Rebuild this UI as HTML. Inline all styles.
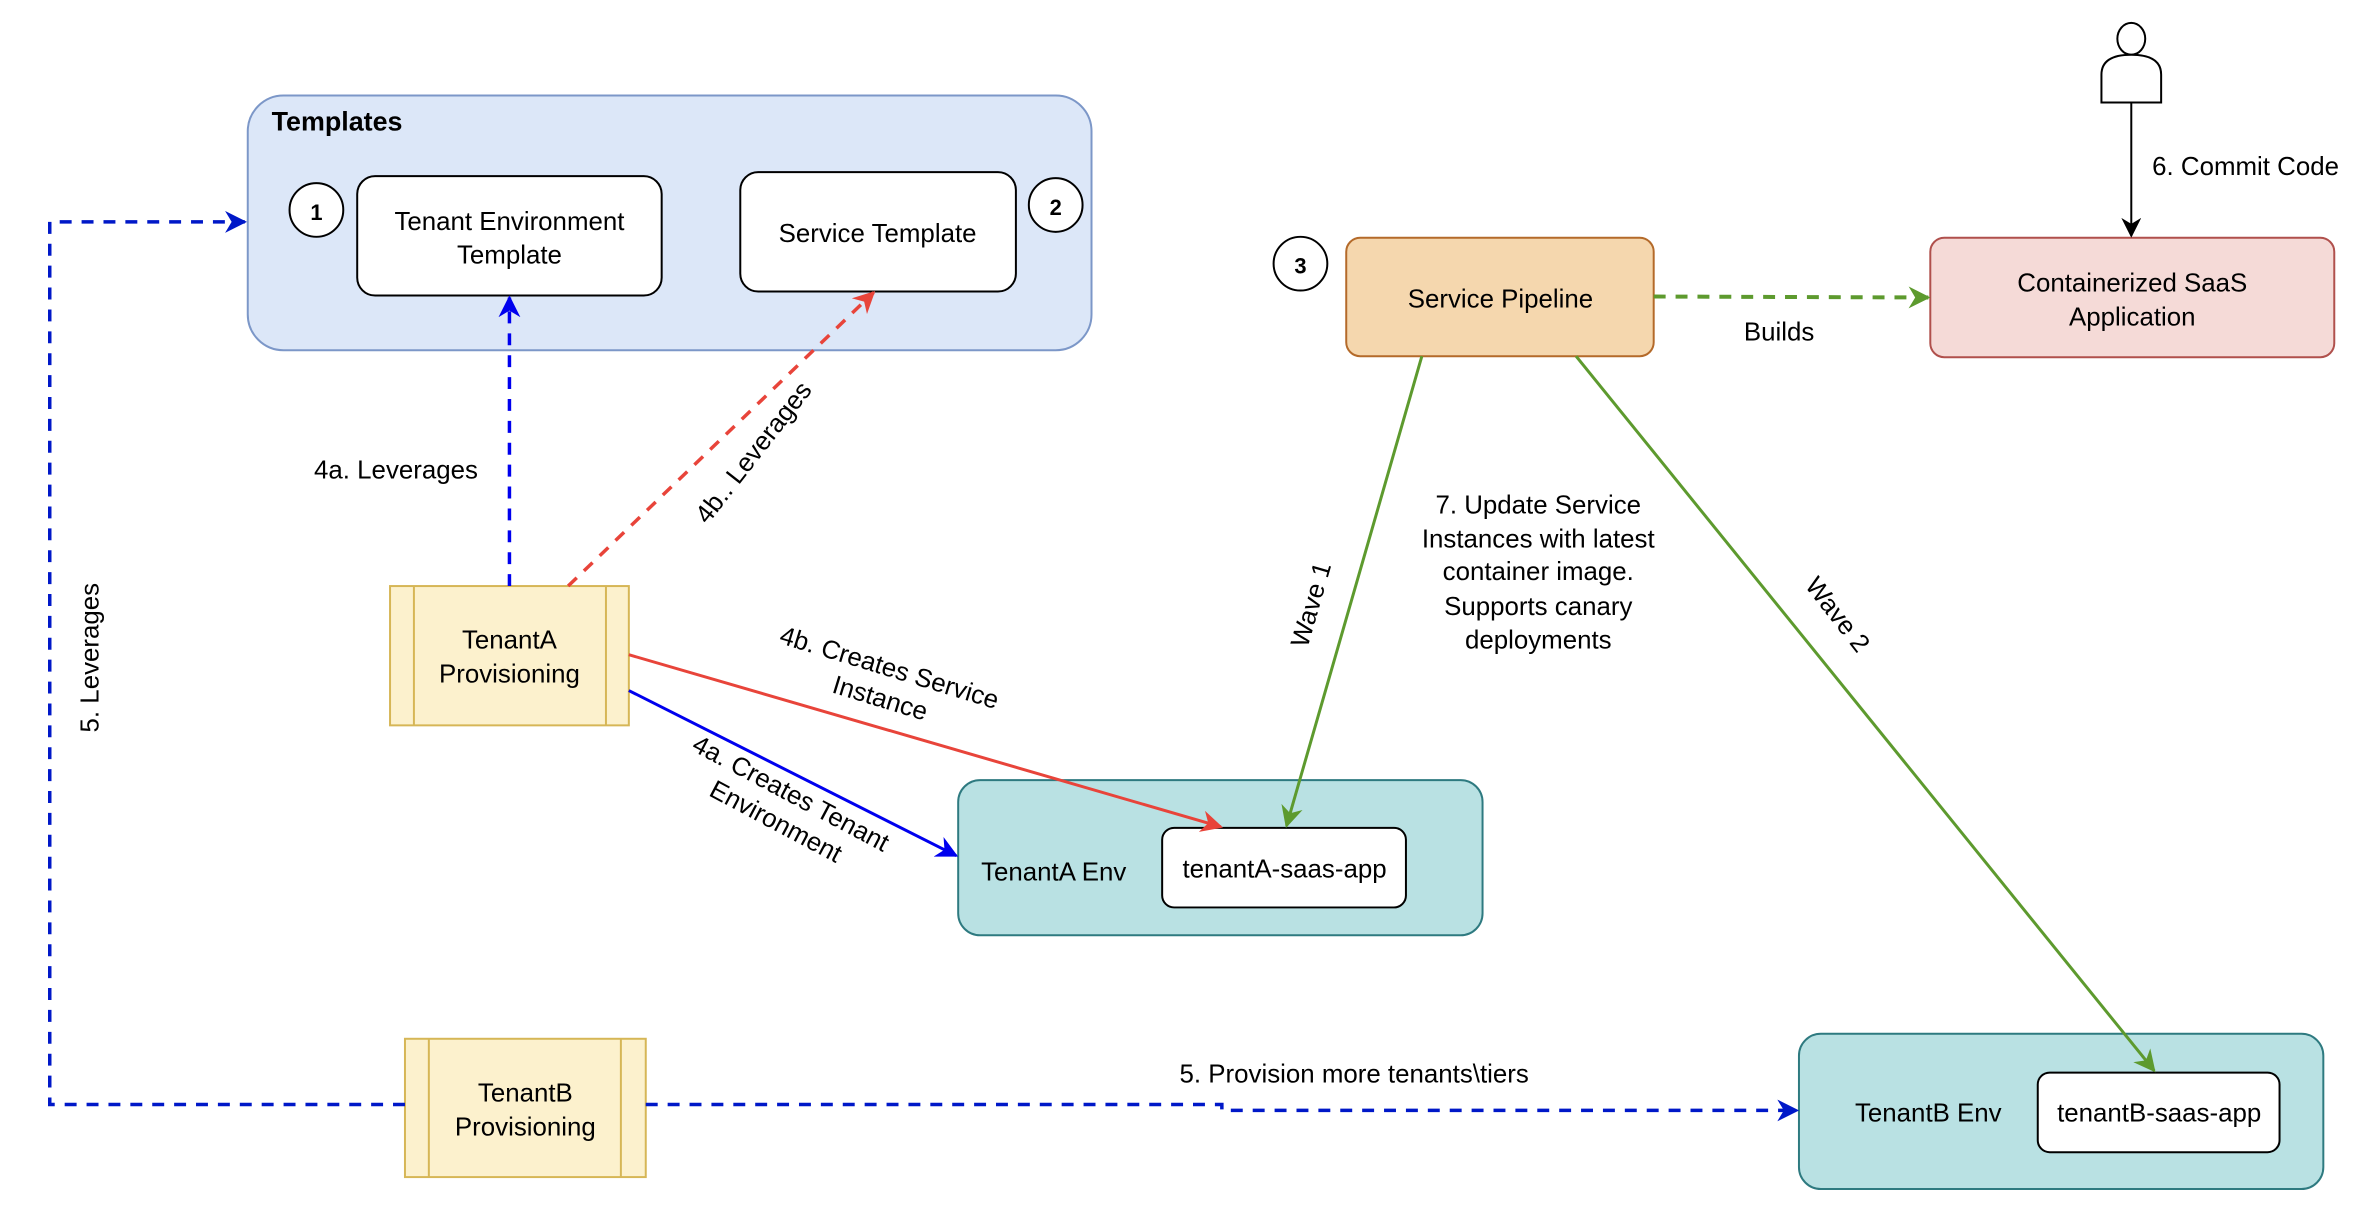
<!DOCTYPE html>
<html><head><meta charset="utf-8"><style>html,body{margin:0;padding:0;background:#fff}svg{display:block}text{font-family:"Liberation Sans",sans-serif;font-size:26px;fill:#000}</style></head>
<body>
<svg width="2370" height="1222" viewBox="0 0 2370 1222" xmlns="http://www.w3.org/2000/svg">
<defs>
<marker id="ab2" viewBox="0 0 10 10" refX="9" refY="5" markerWidth="22" markerHeight="22" orient="auto" markerUnits="userSpaceOnUse"><path d="M0,0 L10,5 L0,10 L3,5z" fill="#0018c8"/></marker>
<marker id="ar" viewBox="0 0 10 10" refX="9" refY="5" markerWidth="22" markerHeight="22" orient="auto" markerUnits="userSpaceOnUse"><path d="M0,0 L10,5 L0,10 L3,5z" fill="#e8443a"/></marker>
<marker id="abl" viewBox="0 0 10 10" refX="9" refY="5" markerWidth="22" markerHeight="22" orient="auto" markerUnits="userSpaceOnUse"><path d="M0,0 L10,5 L0,10 L3,5z" fill="#0000ee"/></marker>
<marker id="ag" viewBox="0 0 10 10" refX="9" refY="5" markerWidth="22" markerHeight="22" orient="auto" markerUnits="userSpaceOnUse"><path d="M0,0 L10,5 L0,10 L3,5z" fill="#5d9a2e"/></marker>
<marker id="ak" viewBox="0 0 10 10" refX="9" refY="5" markerWidth="20" markerHeight="20" orient="auto" markerUnits="userSpaceOnUse"><path d="M0,0 L10,5 L0,10 L3,5z" fill="#000"/></marker>
</defs>
<g transform="scale(0.995)">
<!-- Templates group -->
<rect x="249" y="96" width="848" height="256" rx="36" fill="#dce7f8" stroke="#7c97c8" stroke-width="2"/>
<text x="273" y="131" style="font-weight:bold;font-size:27px">Templates</text>
<ellipse cx="318" cy="211" rx="27" ry="27" fill="#fff" stroke="#000" stroke-width="2"/>
<text x="318" y="221" text-anchor="middle" style="font-weight:bold;font-size:22px">1</text>
<rect x="359" y="177" width="306" height="120" rx="18" fill="#fff" stroke="#000" stroke-width="2"/>
<text x="512" y="231" text-anchor="middle">Tenant Environment</text>
<text x="512" y="265" text-anchor="middle">Template</text>
<rect x="744" y="173" width="277" height="120" rx="18" fill="#fff" stroke="#000" stroke-width="2"/>
<text x="882" y="243" text-anchor="middle">Service Template</text>
<ellipse cx="1061" cy="206" rx="27" ry="27" fill="#fff" stroke="#000" stroke-width="2"/>
<text x="1061" y="216" text-anchor="middle" style="font-weight:bold;font-size:22px">2</text>

<!-- Pipeline -->
<ellipse cx="1307" cy="265" rx="27" ry="27" fill="#fff" stroke="#000" stroke-width="2"/>
<text x="1307" y="275" text-anchor="middle" style="font-weight:bold;font-size:22px">3</text>
<rect x="1353" y="239" width="309" height="119" rx="14" fill="#f5d7ae" stroke="#b46a2a" stroke-width="2"/>
<text x="1508" y="309" text-anchor="middle">Service Pipeline</text>
<rect x="1940" y="239" width="406" height="120" rx="14" fill="#f5dad7" stroke="#b0504c" stroke-width="2"/>
<text x="2143" y="293" text-anchor="middle">Containerized SaaS</text>
<text x="2143" y="327" text-anchor="middle">Application</text>

<!-- Person -->
<ellipse cx="2142" cy="39" rx="14" ry="16" fill="#fff" stroke="#000" stroke-width="2"/>
<path d="M2112,103 L2112,75 Q2112,55 2142,55 Q2172,55 2172,75 L2172,103 Z" fill="#fff" stroke="#000" stroke-width="2"/>
<line x1="2142" y1="103" x2="2142" y2="237" stroke="#000" stroke-width="2" marker-end="url(#ak)"/>
<text x="2163" y="176">6. Commit Code</text>

<!-- Builds -->
<line x1="1662" y1="298" x2="1938" y2="299" stroke="#5d9a2e" stroke-width="4" stroke-dasharray="12,10" marker-end="url(#ag)"/>
<text x="1788" y="342" text-anchor="middle">Builds</text>

<!-- Provisioning boxes -->
<rect x="392" y="589" width="240" height="140" fill="#fcf1cd" stroke="#d6b656" stroke-width="2"/>
<line x1="416" y1="589" x2="416" y2="729" stroke="#d6b656" stroke-width="2"/>
<line x1="609" y1="589" x2="609" y2="729" stroke="#d6b656" stroke-width="2"/>
<text x="512" y="652" text-anchor="middle">TenantA</text>
<text x="512" y="686" text-anchor="middle">Provisioning</text>
<rect x="407" y="1044" width="242" height="139" fill="#fcf1cd" stroke="#d6b656" stroke-width="2"/>
<line x1="431" y1="1044" x2="431" y2="1183" stroke="#d6b656" stroke-width="2"/>
<line x1="624" y1="1044" x2="624" y2="1183" stroke="#d6b656" stroke-width="2"/>
<text x="528" y="1107" text-anchor="middle">TenantB</text>
<text x="528" y="1141" text-anchor="middle">Provisioning</text>

<!-- Env boxes -->
<rect x="963" y="784" width="527" height="156" rx="22" fill="#b9e1e3" stroke="#2e7a80" stroke-width="2"/>
<text x="1059" y="885" text-anchor="middle">TenantA Env</text>
<rect x="1168" y="832" width="245" height="80" rx="12" fill="#fff" stroke="#000" stroke-width="2"/>
<text x="1291" y="882" text-anchor="middle">tenantA-saas-app</text>
<rect x="1808" y="1039" width="527" height="156" rx="22" fill="#b9e1e3" stroke="#2e7a80" stroke-width="2"/>
<text x="1938" y="1127" text-anchor="middle">TenantB Env</text>
<rect x="2048" y="1078" width="243" height="80" rx="12" fill="#fff" stroke="#000" stroke-width="2"/>
<text x="2170" y="1127" text-anchor="middle">tenantB-saas-app</text>

<!-- 4a Leverages -->
<line x1="512" y1="589" x2="512" y2="299" stroke="#0000ee" stroke-width="3.5" stroke-dasharray="12,10" marker-end="url(#abl)"/>
<text x="398" y="481" text-anchor="middle">4a. Leverages</text>
<!-- 4b Leverages -->
<line x1="571" y1="589" x2="878" y2="294" stroke="#e8443a" stroke-width="3.5" stroke-dasharray="12,10" marker-end="url(#ar)"/>
<text transform="translate(764,460) rotate(-52)" text-anchor="middle">4b.. Leverages</text>

<!-- 5 Leverages -->
<polyline points="407,1110 50,1110 50,223 246,223" fill="none" stroke="#0018c8" stroke-width="3.5" stroke-dasharray="12,10" marker-end="url(#ab2)"/>
<text transform="translate(99,661) rotate(-90)" text-anchor="middle">5. Leverages</text>

<!-- 5 Provision -->
<polyline points="649,1110 1228,1110 1228,1116 1806,1116" fill="none" stroke="#0018c8" stroke-width="3.5" stroke-dasharray="12,10" marker-end="url(#ab2)"/>
<text x="1361" y="1088" text-anchor="middle">5. Provision more tenants\tiers</text>

<!-- Creates -->
<line x1="632" y1="658" x2="1227" y2="831" stroke="#e8443a" stroke-width="3" marker-end="url(#ar)"/>
<g transform="translate(889,687) rotate(17)"><text x="0" y="-8" text-anchor="middle">4b. Creates Service</text><text x="0" y="24" text-anchor="middle">Instance</text></g>
<line x1="632" y1="694" x2="961" y2="860" stroke="#0000ee" stroke-width="3" marker-end="url(#abl)"/>
<g transform="translate(787,812) rotate(28)"><text x="0" y="-8" text-anchor="middle">4a. Creates Tenant</text><text x="0" y="24" text-anchor="middle">Environment</text></g>

<!-- Waves -->
<line x1="1429" y1="358" x2="1293" y2="830" stroke="#5d9a2e" stroke-width="3" marker-end="url(#ag)"/>
<text transform="translate(1326,610) rotate(-74)" text-anchor="middle">Wave 1</text>
<line x1="1584" y1="358" x2="2165" y2="1076" stroke="#5d9a2e" stroke-width="3" marker-end="url(#ag)"/>
<text transform="translate(1840,623) rotate(52)" text-anchor="middle">Wave 2</text>

<g text-anchor="middle">
<text x="1546" y="516">7. Update Service</text>
<text x="1546" y="550">Instances with latest</text>
<text x="1546" y="583">container image.</text>
<text x="1546" y="618">Supports canary</text>
<text x="1546" y="652">deployments</text>
</g>
</g>
</svg>
</body></html>
